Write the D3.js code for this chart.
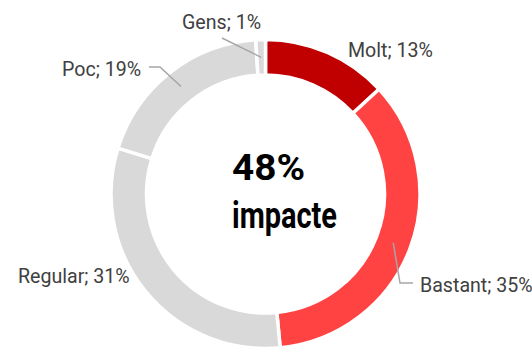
<!DOCTYPE html>
<html>
<meta charset="utf-8">
<style>
body { margin: 0; background: #fff; }
text { font-family: "Liberation Sans Narrow", "Arial Narrow", "Roboto", sans-serif; }
.lbl { font-size: 19.6px; fill: #404040; }
.center { font-size: 36px; font-weight: bold; fill: #000; }
</style>
<head>
  <script src="https://d3js.org/d3.v7.min.js"></script>
</head>
<body>
<script>
var categories = ["Molt", "Bastant", "Regular", "Poc", "Gens"];
var values = [13, 35, 31, 19, 1];
var colors = ["#C00000", "#FF4343", "#D9D9D9", "#D9D9D9", "#D9D9D9"];

// where each label text sits, and whether it gets a leader
var labelLayout = [
  {x: 348, y: 57, leader: null},
  {x: 420, y: 292, leader: [[400, 283], [413, 283]]},
  {x: 18, y: 283, leader: null},
  {x: 62, y: 76, leader: [[160, 67], [149, 67]]},
  {x: 182, y: 29, leader: [[222, 38]]}
];

var width = 532, height = 347;
var cx = 265.5, cy = 194, outerR = 154.5, innerR = 119;

var svg = d3.select("body").append("svg")
    .attr("width", width)
    .attr("height", height);

var data = categories.map(function(c, i) { return {name: c, value: values[i], i: i}; });

var pie = d3.pie()
    .value(function(d) { return d.value; })
    .sort(null);

var arc = d3.arc().innerRadius(innerR).outerRadius(outerR);
var midArc = d3.arc().innerRadius((innerR + outerR) / 2).outerRadius((innerR + outerR) / 2);

var g = svg.append("g").attr("transform", "translate(" + cx + "," + cy + ")");

var arcs = pie(data);

g.selectAll("path.slice")
  .data(arcs)
  .enter().append("path")
    .attr("class", "slice")
    .attr("d", arc)
    .attr("fill", function(d) { return colors[d.data.i]; })
    .attr("stroke", "#fff")
    .attr("stroke-width", 3.5);

// leader lines
arcs.forEach(function(d) {
  var lay = labelLayout[d.data.i];
  if (!lay.leader) return;
  var c = midArc.centroid(d);
  var pts = [[c[0] + cx, c[1] + cy]].concat(lay.leader);
  svg.append("path")
    .attr("d", d3.line()(pts))
    .attr("fill", "none")
    .attr("stroke", "#A6A6A6")
    .attr("stroke-width", 1.5);
});

svg.selectAll("text.lbl")
  .data(arcs)
  .enter().append("text")
    .attr("class", "lbl")
    .attr("x", function(d) { return labelLayout[d.data.i].x; })
    .attr("y", function(d) { return labelLayout[d.data.i].y; })
    .text(function(d) { return d.data.name + "; " + d.data.value + "%"; });

var impact = values[0] + values[1];
svg.append("text").attr("class", "center")
  .attr("x", 232).attr("y", 180)
  .attr("textLength", 73).attr("lengthAdjust", "spacingAndGlyphs")
  .text(impact + "%");
svg.append("text").attr("class", "center")
  .attr("x", 232).attr("y", 228)
  .attr("textLength", 105).attr("lengthAdjust", "spacingAndGlyphs")
  .text("impacte");
</script>
</body>
</html>
